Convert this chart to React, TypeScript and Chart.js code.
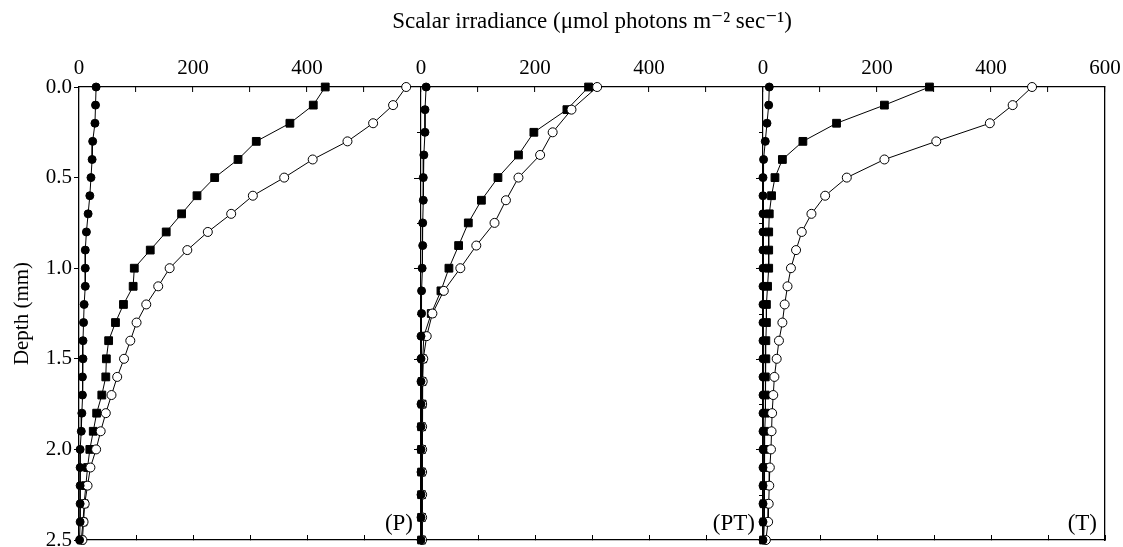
import React, { useEffect, useRef } from 'react';
import { Chart, registerables } from 'chart.js';

Chart.register(...registerables);

const FONT = "'Liberation Serif', 'DejaVu Serif', 'Times New Roman', serif";

const TITLE = 'Scalar irradiance (\u03bcmol photons m\u207b\u00b2 sec\u207b\u00b9)';
const Y_TITLE = 'Depth (mm)';

// depths (mm)
const depthsP = [0.0, 0.1, 0.2, 0.3, 0.4, 0.5, 0.6, 0.7, 0.8, 0.9, 1.0, 1.1, 1.2, 1.3, 1.4, 1.5, 1.6, 1.7, 1.8, 1.9, 2.0, 2.1, 2.2, 2.3, 2.4, 2.5];
const depthsPT = [0.0, 0.125, 0.25, 0.375, 0.5, 0.625, 0.75, 0.875, 1.0, 1.125, 1.25, 1.375, 1.5, 1.625, 1.75, 1.875, 2.0, 2.125, 2.25, 2.375, 2.5];
const depthsT = [0.0, 0.1, 0.2, 0.3, 0.4, 0.5, 0.6, 0.7, 0.8, 0.9, 1.0, 1.1, 1.2, 1.3, 1.4, 1.5, 1.6, 1.7, 1.8, 1.9, 2.0, 2.1, 2.2, 2.3, 2.4, 2.5];

// panel P
const pFilledCircles = [30, 29, 28, 24, 23, 21, 19, 16, 13, 11, 11, 11, 9, 8, 7, 7, 6, 6, 5, 4, 2, 2, 2, 2, 2, 1];
const pFilledSquares = [432, 411, 370, 311, 279, 238, 207, 180, 153, 125, 97, 95, 78, 64, 52, 48, 47, 40, 31, 25, 19, 15, 12, 9, 7, 4];
const pOpenCircles = [574, 551, 516, 471, 410, 360, 305, 267, 226, 190, 159, 139, 118, 101, 90, 79, 67, 57, 47, 38, 30, 20, 15, 10, 8, 6];

// panel PT
const ptFilledCircles = [9, 7, 7, 5, 4, 4, 3, 3, 2, 1, 1, 0, 0, 0, 0, 0, 0, 0, 0, 0, 0];
const ptFilledSquares = [294, 256, 198, 171, 135, 106, 83, 66, 49, 35, 18, 5, 3, 2, 2, 1, 1, 1, 1, 1, 1];
const ptOpenCircles = [309, 264, 231, 209, 171, 149, 129, 97, 69, 40, 20, 10, 4, 3, 2, 2, 2, 2, 2, 2, 2];

// panel T
const tFilledCircles = [11, 10, 7, 4, 1, 0, 0, 0, 0, 0, 0, 0, 0, 0, 0, 0, 0, 0, 0, 0, 0, 0, 0, 0, 0, 0];
const tFilledSquares = [292, 213, 129, 70, 34, 21, 15, 11, 10, 10, 10, 8, 6, 6, 5, 5, 4, 4, 4, 3, 3, 3, 2, 2, 2, 1];
const tOpenCircles = [472, 438, 398, 304, 213, 147, 109, 85, 68, 58, 49, 43, 38, 34, 28, 24, 20, 18, 16, 15, 14, 12, 11, 10, 9, 5];

// tick labels
const xTickValues = [0, 100, 200, 300, 400, 500, 600];
const xTickLabels = ['0', '', '200', '', '400', '', ''];
const xTickLabelsLast = ['0', '', '200', '', '400', '', '600'];
const yTickValues = [0, 0.5, 1, 1.5, 2, 2.5];
const yTickLabels = ['0.0', '0.5', '1.0', '1.5', '2.0', '2.5'];
const boundaryTickValues = [0.25, 0.5, 0.75, 1.0, 1.25, 1.5, 1.75, 2.0, 2.25];
const panelLabels = ['(P)', '(PT)', '(T)'];
const panelAxes = ['xP', 'xPT', 'xT'];

type Style = 'filled' | 'square' | 'open';

function series(label: string, values: number[], depths: number[], axis: string, style: Style) {
  const base: any = {
    label,
    data: values.map((v, i) => ({ x: v, y: depths[i] })),
    xAxisID: axis,
    yAxisID: 'y',
    showLine: true,
    borderColor: '#000',
    borderWidth: 1,
    tension: 0,
    fill: false,
    clip: false,
    pointBorderColor: '#000',
    pointBorderWidth: 1,
  };
  if (style === 'filled') {
    base.pointStyle = 'circle';
    base.pointRadius = 4;
    base.pointBackgroundColor = '#000';
  } else if (style === 'square') {
    base.pointStyle = 'rect';
    base.pointRadius = 5.5;
    base.pointBackgroundColor = '#000';
  } else {
    base.pointStyle = 'circle';
    base.pointRadius = 4.5;
    base.pointBackgroundColor = '#fff';
  }
  return base;
}

function labelFor(values: number[], labels: string[]) {
  return (v: any) => {
    const i = values.indexOf(Number(v));
    return i >= 0 ? labels[i] : '';
  };
}

function topAxis(labels: string[], boundary: boolean) {
  return {
    type: 'linear',
    position: 'top',
    stack: 'top',
    stackWeight: 1,
    min: 0,
    max: 600,
    ticks: {
      stepSize: 100,
      autoSkip: false,
      maxRotation: 0,
      minRotation: 0,
      padding: 11,
      color: '#000',
      font: { family: FONT, size: 21 },
      callback: labelFor(xTickValues, labels),
    },
    grid: {
      drawOnChartArea: true,
      drawTicks: true,
      tickLength: -5,
      tickColor: '#000',
      tickWidth: 1,
      lineWidth: 1.2,
      color: (c: any) => (boundary && c.tick && c.tick.value === 0 ? '#000' : 'rgba(0,0,0,0)'),
    },
    border: { display: true, color: '#000', width: 1.3 },
    afterFit: (s: any) => {
      s.height = 41;
      s.paddingLeft = 0;
      s.paddingRight = 0;
      s.paddingTop = 0;
      s.paddingBottom = 0;
    },
  };
}

function bottomAxis() {
  return {
    type: 'linear',
    position: 'bottom',
    stack: 'bottom',
    stackWeight: 1,
    min: 0,
    max: 600,
    ticks: { display: false, stepSize: 100 },
    grid: {
      drawOnChartArea: false,
      drawTicks: true,
      tickLength: -5,
      tickColor: '#000',
      tickWidth: 1,
      color: '#000',
    },
    border: { display: true, color: '#000', width: 1.3 },
    afterFit: (s: any) => {
      s.height = 0;
      s.paddingLeft = 0;
      s.paddingRight = 0;
      s.paddingTop = 0;
      s.paddingBottom = 0;
    },
  };
}

const panelDecor = {
  id: 'panelDecor',
  afterDraw(chart: any) {
    const ctx = chart.ctx;
    const y = chart.scales.y;
    ctx.save();
    ctx.strokeStyle = '#000';
    ctx.lineWidth = 1;
    for (const id of ['xPT', 'xT']) {
      const x = chart.scales[id].getPixelForValue(0);
      for (const v of boundaryTickValues) {
        const py = Math.round(y.getPixelForValue(v)) + 0.5;
        const len = v % 0.5 === 0 ? 7 : 4;
        ctx.beginPath();
        ctx.moveTo(x - len, py);
        ctx.lineTo(x, py);
        ctx.stroke();
      }
    }
    ctx.fillStyle = '#000';
    ctx.font = `23px ${FONT}`;
    ctx.textAlign = 'right';
    ctx.textBaseline = 'middle';
    panelLabels.forEach((t, i) => {
      const s = chart.scales[panelAxes[i]];
      ctx.fillText(t, s.getPixelForValue(600) - 8, y.bottom - 16);
    });
    ctx.restore();
  },
};

export default function App() {
  const ref = useRef<HTMLCanvasElement | null>(null);
  useEffect(() => {
    if (!ref.current) return;
    const datasets = [
      series('P filled circles', pFilledCircles, depthsP, 'xP', 'filled'),
      series('PT filled circles', ptFilledCircles, depthsPT, 'xPT', 'filled'),
      series('T filled circles', tFilledCircles, depthsT, 'xT', 'filled'),
      series('P open circles', pOpenCircles, depthsP, 'xP', 'open'),
      series('PT open circles', ptOpenCircles, depthsPT, 'xPT', 'open'),
      series('T open circles', tOpenCircles, depthsT, 'xT', 'open'),
      series('P filled squares', pFilledSquares, depthsP, 'xP', 'square'),
      series('PT filled squares', ptFilledSquares, depthsPT, 'xPT', 'square'),
      series('T filled squares', tFilledSquares, depthsT, 'xT', 'square'),
    ];
    const chart = new Chart(ref.current, {
      type: 'scatter',
      data: { datasets },
      plugins: [panelDecor],
      options: {
        animation: false,
        responsive: true,
        maintainAspectRatio: false,
        events: [],
        layout: { padding: { top: 0, left: 0, right: 18, bottom: 7 } },
        plugins: {
          legend: { display: false },
          tooltip: { enabled: false },
          title: {
            display: true,
            fullSize: false,
            text: TITLE,
            color: '#000',
            font: { family: FONT, size: 23, weight: 'normal' },
            padding: { top: 8, bottom: 10.4 },
          },
        },
        scales: {
          // stacked top axes are laid out in reverse order of definition
          xT: topAxis(xTickLabelsLast, true),
          xPT: topAxis(xTickLabels, true),
          xP: topAxis(xTickLabels, false),
          xbT: bottomAxis(),
          xbPT: bottomAxis(),
          xbP: bottomAxis(),
          y: {
            type: 'linear',
            position: 'left',
            reverse: true,
            min: 0,
            max: 2.5,
            ticks: {
              stepSize: 0.5,
              padding: 2,
              color: '#000',
              font: { family: FONT, size: 21 },
              callback: labelFor(yTickValues, yTickLabels),
            },
            grid: { drawOnChartArea: false, drawTicks: true, tickLength: 5, tickColor: '#000', color: '#000' },
            border: { display: true, color: '#000', width: 1.3 },
            title: {
              display: true,
              text: Y_TITLE,
              color: '#000',
              font: { family: FONT, size: 21 },
              padding: { top: 10, bottom: 0 },
            },
            afterFit: (s: any) => {
              s.width = 79;
              s.paddingTop = 0;
              s.paddingBottom = 0;
            },
          },
          yR: {
            type: 'linear',
            position: 'right',
            display: true,
            min: 0,
            max: 1,
            ticks: { display: false },
            grid: { display: false, drawTicks: false },
            border: { display: true, color: '#000', width: 1.3 },
            afterFit: (s: any) => {
              s.width = 0;
              s.paddingTop = 0;
              s.paddingBottom = 0;
            },
          },
        },
      } as any,
    });
    return () => chart.destroy();
  }, []);
  return (
    <div style={{ position: 'absolute', left: 0, top: 0, width: 1123, height: 547, background: '#fff' }}>
      <canvas ref={ref} />
    </div>
  );
}
